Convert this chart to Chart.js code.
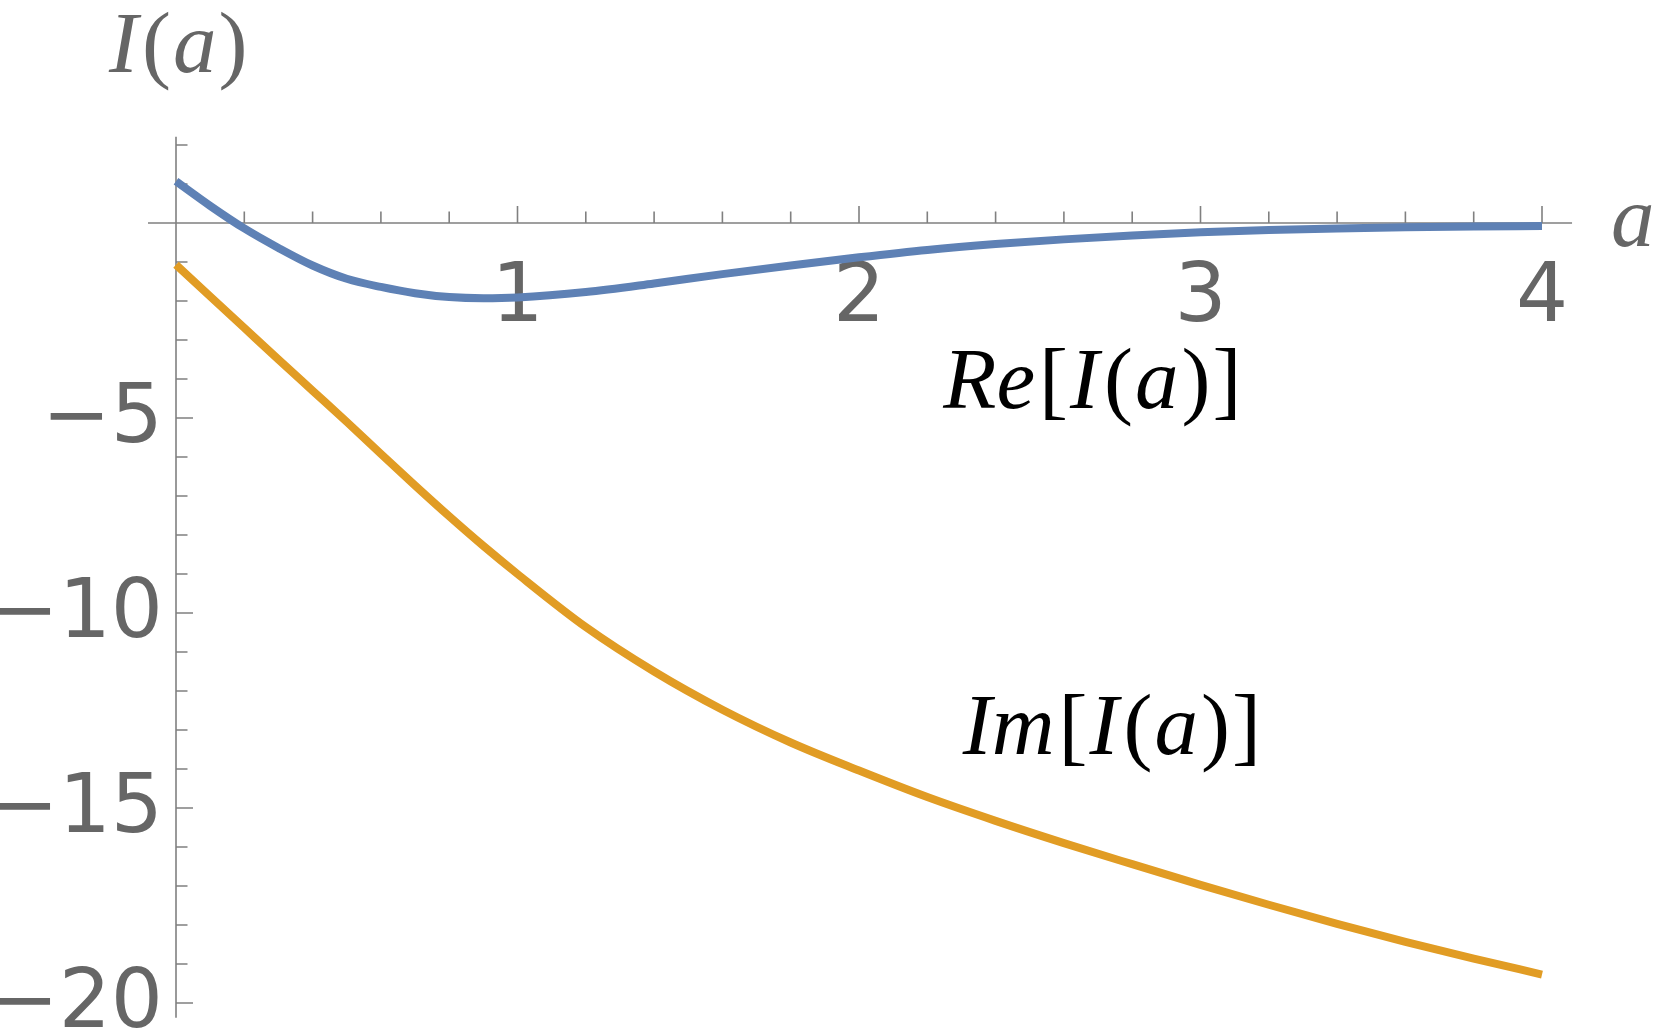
<!DOCTYPE html>
<html>
<head>
<meta charset="utf-8">
<script src="https://cdn.jsdelivr.net/npm/chart.js@4.4.1/dist/chart.umd.min.js"></script>
<style>
  html, body { margin: 0; padding: 0; background: #fff; }
  #wrap { position: relative; width: 1654px; height: 1031px; }
</style>
</head>
<body>
<div id="wrap"><canvas id="chart"></canvas></div>
<script>
// --- Données ---
const aValues  = [0, 0.1, 0.2, 0.3, 0.4, 0.5, 0.6, 0.7, 0.8, 0.9, 1.0,
                  1.2, 1.4, 1.6, 1.8, 2.0, 2.2, 2.4, 2.6, 2.8, 3.0,
                  3.2, 3.4, 3.6, 3.8, 4.0];
const reValues = [1.07, 0.44, -0.14, -0.64, -1.09, -1.43, -1.64, -1.80, -1.90, -1.93, -1.91,
                  -1.77, -1.55, -1.31, -1.09, -0.88, -0.69, -0.54, -0.42, -0.32, -0.24,
                  -0.18, -0.14, -0.11, -0.09, -0.08];
const imValues = [-1.07, -1.88, -2.69, -3.50, -4.30, -5.10, -5.92, -6.73, -7.52, -8.28, -9.00,
                  -10.36, -11.50, -12.48, -13.32, -14.04, -14.72, -15.33, -15.90, -16.44, -16.97,
                  -17.48, -17.97, -18.43, -18.86, -19.27];

const xTickValues = [1, 2, 3, 4];
const xTickLabels = ['1', '2', '3', '4'];
const yTickValues = [-5, -10, -15, -20];
const yTickLabels = ['\u22125', '\u221210', '\u221215', '\u221220'];

// --- Styles ---
const axisColor  = '#808080';
const labelColor = '#666666';
const reColor    = '#5E81B5';
const imColor    = '#E19C24';
const tickFont   = '82px "DejaVu Sans"';
const mathSize   = 87;

function toPoints(xs, ys) {
    return xs.map((x, i) => ({ x, y: ys[i] }));
}

// texte mathématique : morceaux italiques / droits
function drawMath(ctx, runs, x, y, color) {
    ctx.fillStyle = color;
    ctx.textAlign = 'left';
    ctx.textBaseline = 'alphabetic';
    runs.forEach(run => {
        ctx.font = (run.i ? 'italic ' : '') + mathSize + 'px "Liberation Serif"';
        ctx.fillText(run.t, x, y);
        x += ctx.measureText(run.t).width + (run.pad || 2);
    });
}

const axesPlugin = {
    id: 'mathAxes',
    beforeDatasetsDraw(chart) {
        const ctx = chart.ctx;
        const xs = chart.scales.x;
        const ys = chart.scales.y;
        const x0 = xs.getPixelForValue(0);
        const y0 = ys.getPixelForValue(0);

        ctx.save();
        ctx.strokeStyle = axisColor;
        ctx.lineWidth = 1.6;

        // axes
        ctx.beginPath();
        ctx.moveTo(xs.getPixelForValue(-0.082), y0);
        ctx.lineTo(xs.getPixelForValue(4.088), y0);
        ctx.moveTo(x0, ys.getPixelForValue(2.21));
        ctx.lineTo(x0, ys.getPixelForValue(-20.38));
        ctx.stroke();

        // graduations x (mineures tous les 0.2)
        ctx.beginPath();
        for (let k = 1; k <= 20; k++) {
            const px = xs.getPixelForValue(k * 0.2);
            const len = (k % 5 === 0) ? 17 : 11.5;
            ctx.moveTo(px, y0);
            ctx.lineTo(px, y0 - len);
        }
        // graduations y (mineures tous les 1)
        for (let v = 2; v >= -20; v--) {
            if (v === 0) continue;
            const py = ys.getPixelForValue(v);
            const len = (v % 5 === 0) ? 17 : 11.5;
            ctx.moveTo(x0, py);
            ctx.lineTo(x0 + len, py);
        }
        ctx.stroke();

        // étiquettes
        ctx.fillStyle = labelColor;
        ctx.font = tickFont;
        ctx.textAlign = 'center';
        ctx.textBaseline = 'alphabetic';
        xTickValues.forEach((v, i) => {
            ctx.fillText(xTickLabels[i], xs.getPixelForValue(v), y0 + 98);
        });
        ctx.textAlign = 'right';
        yTickValues.forEach((v, i) => {
            ctx.fillText(yTickLabels[i], x0 - 13, ys.getPixelForValue(v) + 24);
        });

        // titres des axes
        drawMath(ctx, [{ t: 'I', i: true, pad: 4 }, { t: '(' }, { t: 'a', i: true }, { t: ')' }],
            xs.getPixelForValue(-0.196), ys.getPixelForValue(3.87), labelColor);
        drawMath(ctx, [{ t: 'a', i: true }],
            xs.getPixelForValue(4.202), ys.getPixelForValue(-0.58), labelColor);

        ctx.restore();
    },
    afterDatasetsDraw(chart) {
        const ctx = chart.ctx;
        const xs = chart.scales.x;
        const ys = chart.scales.y;
        ctx.save();
        drawMath(ctx, [{ t: 'Re', i: true, pad: 4 }, { t: '[' }, { t: 'I', i: true, pad: 5 }, { t: '(' },
                       { t: 'a', i: true, pad: 3 }, { t: ')' }, { t: ']' }],
            xs.getPixelForValue(2.247), ys.getPixelForValue(-4.74), '#000');
        drawMath(ctx, [{ t: 'Im', i: true, pad: 4 }, { t: '[' }, { t: 'I', i: true, pad: 5 }, { t: '(' },
                       { t: 'a', i: true, pad: 3 }, { t: ')' }, { t: ']' }],
            xs.getPixelForValue(2.304), ys.getPixelForValue(-13.61), '#000');
        ctx.restore();
    }
};

new Chart(document.getElementById('chart'), {
    type: 'line',
    data: {
        datasets: [
            {
                label: 'Re[I(a)]',
                data: toPoints(aValues, reValues),
                borderColor: reColor,
                borderWidth: 8,
                borderCapStyle: 'butt',
                pointRadius: 0,
                cubicInterpolationMode: 'monotone',
                clip: false
            },
            {
                label: 'Im[I(a)]',
                data: toPoints(aValues, imValues),
                borderColor: imColor,
                borderWidth: 8,
                borderCapStyle: 'butt',
                pointRadius: 0,
                cubicInterpolationMode: 'monotone',
                clip: false
            }
        ]
    },
    options: {
        responsive: true,
        maintainAspectRatio: false,
        animation: false,
        layout: { padding: { left: 176, right: 112, top: 223, bottom: 28 } },
        plugins: { legend: { display: false }, tooltip: { enabled: false } },
        scales: {
            x: { type: 'linear', min: 0, max: 4, display: false },
            y: { type: 'linear', min: -20, max: 0, display: false }
        }
    },
    plugins: [axesPlugin]
});
</script>
</body>
</html>
